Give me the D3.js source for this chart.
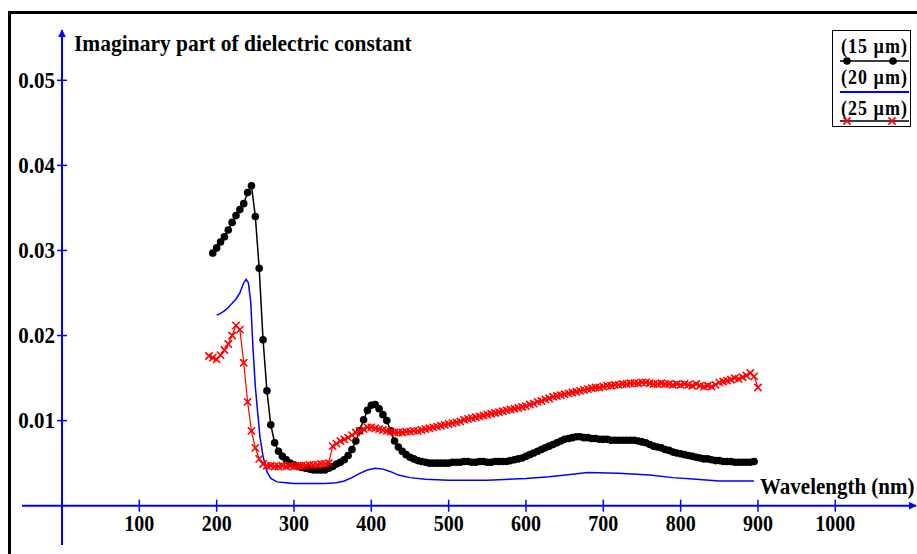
<!DOCTYPE html>
<html>
<head>
<meta charset="utf-8">
<script src="https://cdn.jsdelivr.net/npm/d3@7"></script>
<style>
  body { margin: 0; background: #fff; }
  text { font-family: "Liberation Serif", "Times New Roman", serif; font-weight: bold; fill: #000; }
</style>
</head>
<body>
<div id="plot"></div>
<script>
// wavelength (nm) / imaginary part of dielectric constant
var wl15 = [195,200,205,210,215,220,225,230,235,240,245,250,255,260,265,270,275,280,285,290,295,300,305,310,315,320,325,330,335,340,345,350,355,360,365,370,375,380,385,390,395,400,405,410,415,420,425,430,435,440,445,450,455,460,465,470,475,480,485,490,495,500,505,510,515,520,525,530,535,540,545,550,555,560,565,570,575,580,585,590,595,600,605,610,615,620,625,630,635,640,645,650,655,660,665,670,675,680,685,690,695,700,705,710,715,720,725,730,735,740,745,750,755,760,765,770,775,780,785,790,795,800,805,810,815,820,825,830,835,840,845,850,855,860,865,870,875,880,885,890,895];
var eps15 = [0.0297,0.0303,0.0310,0.0316,0.0324,0.0333,0.0341,0.0348,0.0355,0.0368,0.0376,0.0340,0.0279,0.0195,0.0135,0.0095,0.0074,0.0064,0.0058,0.0054,0.0050,0.0048,0.0046,0.0045,0.0044,0.0043,0.0042,0.0042,0.0042,0.0042,0.0044,0.0046,0.0049,0.0051,0.0054,0.0059,0.0066,0.0076,0.0088,0.0101,0.0112,0.0118,0.0119,0.0114,0.0107,0.0100,0.0088,0.0076,0.0069,0.0064,0.0060,0.0057,0.0055,0.0053,0.0052,0.0051,0.0050,0.0050,0.0050,0.0050,0.0050,0.0050,0.0051,0.0051,0.0051,0.0052,0.0052,0.0051,0.0051,0.0052,0.0052,0.0051,0.0051,0.0052,0.0052,0.0052,0.0052,0.0053,0.0054,0.0055,0.0056,0.0058,0.0060,0.0062,0.0064,0.0066,0.0068,0.0070,0.0072,0.0074,0.0076,0.0078,0.0079,0.0080,0.0081,0.0081,0.0080,0.0080,0.0079,0.0079,0.0078,0.0078,0.0078,0.0077,0.0077,0.0077,0.0077,0.0077,0.0077,0.0077,0.0076,0.0075,0.0074,0.0072,0.0070,0.0069,0.0068,0.0066,0.0065,0.0063,0.0062,0.0061,0.0060,0.0059,0.0058,0.0057,0.0056,0.0055,0.0055,0.0054,0.0053,0.0053,0.0052,0.0052,0.0052,0.0051,0.0051,0.0051,0.0051,0.0051,0.0052];

var wl20 = [200,205,210,215,220,225,230,235,238,241,244,247,250,253,256,260,265,270,278,290,300,320,340,355,365,375,385,395,405,415,425,435,450,470,500,550,600,630,660,680,720,760,790,820,850,895];
var eps20 = [0.0224,0.0226,0.0229,0.0233,0.0238,0.0243,0.0250,0.0262,0.0266,0.0262,0.0240,0.0185,0.0140,0.0110,0.0081,0.0058,0.0040,0.0032,0.0028,0.0027,0.0026,0.0026,0.0026,0.0027,0.0029,0.0033,0.0038,0.0042,0.0044,0.0043,0.0040,0.0036,0.0033,0.0031,0.0030,0.0030,0.0032,0.0034,0.0037,0.0039,0.0038,0.0036,0.0033,0.0031,0.0029,0.0029];

var wl25 = [190,195,200,205,210,215,220,225,230,235,240,245,250,255,260,265,270,275,280,285,290,295,300,305,310,315,320,325,330,335,340,345,350,355,360,365,370,375,380,385,390,395,400,405,410,415,420,425,430,435,440,445,450,455,460,465,470,475,480,485,490,495,500,505,510,515,520,525,530,535,540,545,550,555,560,565,570,575,580,585,590,595,600,605,610,615,620,625,630,635,640,645,650,655,660,665,670,675,680,685,690,695,700,705,710,715,720,725,730,735,740,745,750,755,760,765,770,775,780,785,790,795,800,805,810,815,820,825,830,835,840,845,850,855,860,865,870,875,880,885,890,895,900];
var eps25 = [0.0176,0.0174,0.0172,0.0177,0.0183,0.0190,0.0200,0.0212,0.0207,0.0168,0.0122,0.0088,0.0068,0.0055,0.0049,0.0047,0.0047,0.0046,0.0046,0.0047,0.0046,0.0047,0.0046,0.0047,0.0047,0.0047,0.0048,0.0048,0.0048,0.0049,0.0049,0.0050,0.0070,0.0073,0.0076,0.0078,0.0080,0.0083,0.0086,0.0088,0.0090,0.0092,0.0092,0.0091,0.0090,0.0089,0.0088,0.0087,0.0086,0.0086,0.0086,0.0087,0.0087,0.0088,0.0088,0.0089,0.0090,0.0091,0.0092,0.0093,0.0094,0.0095,0.0096,0.0097,0.0098,0.0099,0.0101,0.0102,0.0103,0.0104,0.0105,0.0106,0.0107,0.0108,0.0109,0.0110,0.0111,0.0112,0.0113,0.0114,0.0115,0.0116,0.0117,0.0119,0.0120,0.0122,0.0123,0.0125,0.0126,0.0128,0.0129,0.0130,0.0131,0.0132,0.0133,0.0134,0.0135,0.0136,0.0137,0.0138,0.0139,0.0139,0.0140,0.0141,0.0141,0.0142,0.0142,0.0143,0.0143,0.0144,0.0144,0.0144,0.0145,0.0145,0.0144,0.0143,0.0143,0.0144,0.0143,0.0143,0.0142,0.0143,0.0142,0.0143,0.0142,0.0141,0.0143,0.0141,0.0140,0.0141,0.0140,0.0142,0.0145,0.0146,0.0147,0.0148,0.0150,0.0149,0.0151,0.0153,0.0156,0.0152,0.0139];

var xTicks = [100,200,300,400,500,600,700,800,900,1000];
var yTicks = [0.01,0.02,0.03,0.04,0.05];
var legendLabels = ["(15 \u00b5m)", "(20 \u00b5m)", "(25 \u00b5m)"];

var svg = d3.select("div#plot")
            .append("svg")
            .attr("width", 917)
            .attr("height", 554);

var xScale = d3.scaleLinear().domain([0, 1000]).range([62, 835.3]);
var yScale = d3.scaleLinear().domain([0, 0.05]).range([505.7, 80.3]);
var blue = "#0000ff";
var red = "#ff0000";
var stretch = 1.12; // the source font is a bit taller than Times

// outer frame
svg.append("rect")
  .attr("x", 9.5).attr("y", 12.5)
  .attr("width", 940).attr("height", 600)
  .attr("fill", "none")
  .attr("stroke", "#000")
  .attr("stroke-width", 3);

// arrow heads
svg.append("defs").append("marker")
  .attr("id", "arrow")
  .attr("viewBox", "0 0 10 10")
  .attr("refX", 9).attr("refY", 5)
  .attr("markerWidth", 4).attr("markerHeight", 4)
  .attr("orient", "auto")
  .append("path")
  .attr("d", "M0,0 L10,5 L0,10 z")
  .attr("fill", blue);

// axes lines
svg.append("line")
  .attr("x1", 22).attr("x2", 916)
  .attr("y1", yScale(0)).attr("y2", yScale(0))
  .attr("stroke", blue).attr("stroke-width", 2)
  .attr("marker-end", "url(#arrow)");
svg.append("line")
  .attr("x1", xScale(0)).attr("x2", xScale(0))
  .attr("y1", 545).attr("y2", 30)
  .attr("stroke", blue).attr("stroke-width", 2)
  .attr("marker-end", "url(#arrow)");

// x ticks
svg.selectAll(".xtick").data(xTicks).enter().append("line")
  .attr("x1", d => xScale(d)).attr("x2", d => xScale(d))
  .attr("y1", yScale(0) - 6).attr("y2", yScale(0) + 6)
  .attr("stroke", blue).attr("stroke-width", 1.5);
svg.selectAll(".xlab").data(xTicks).enter().append("text")
  .attr("transform", d => `translate(${xScale(d)},531) scale(1,${stretch})`)
  .attr("text-anchor", "middle")
  .style("font-size", "20px")
  .text(d => d);

// y ticks
svg.selectAll(".ytick").data(yTicks).enter().append("line")
  .attr("x1", xScale(0) - 5).attr("x2", xScale(0) + 5)
  .attr("y1", d => yScale(d)).attr("y2", d => yScale(d))
  .attr("stroke", blue).attr("stroke-width", 1.5);
svg.selectAll(".ylab").data(yTicks).enter().append("text")
  .attr("transform", d => `translate(55,${yScale(d) + 7.5}) scale(1,${stretch})`)
  .attr("text-anchor", "end")
  .style("font-size", "21px")
  .text(d => d.toFixed(2));

// axis titles
svg.append("text")
  .attr("transform", `translate(74,51) scale(1,${stretch})`)
  .style("font-size", "21.5px")
  .text("Imaginary part of dielectric constant");
svg.append("text")
  .attr("transform", `translate(760,494) scale(1,${stretch})`)
  .style("font-size", "21px")
  .text("Wavelength (nm)");

var line = d3.line()
  .x(d => xScale(d[0]))
  .y(d => yScale(d[1]));

var d15 = d3.zip(wl15, eps15);
var d20 = d3.zip(wl20, eps20);
var d25 = d3.zip(wl25, eps25);

// 20 um : blue line
svg.append("path").datum(d20)
  .attr("fill", "none").attr("stroke", blue).attr("stroke-width", 1.5)
  .attr("d", line);

// 15 um : black line with dots
svg.append("path").datum(d15)
  .attr("fill", "none").attr("stroke", "#000").attr("stroke-width", 1.5)
  .attr("d", line);
svg.selectAll(".dot").data(d15).enter().append("circle")
  .attr("cx", d => xScale(d[0]))
  .attr("cy", d => yScale(d[1]))
  .attr("r", 3.8)
  .attr("fill", "#000");

// 25 um : red line with crosses
svg.append("path").datum(d25)
  .attr("fill", "none").attr("stroke", red).attr("stroke-width", 1.2)
  .attr("d", line);
var cross = d3.symbol().type(d3.symbolX).size(36);
svg.selectAll(".cross").data(d25).enter().append("path")
  .attr("transform", d => `translate(${xScale(d[0])},${yScale(d[1])})`)
  .attr("d", cross)
  .attr("fill", "none")
  .attr("stroke", red)
  .attr("stroke-width", 1.6);

// legend
var lg = svg.append("g");
lg.append("rect")
  .attr("x", 832.5).attr("y", 30.5)
  .attr("width", 78).attr("height", 96)
  .attr("fill", "#fff").attr("stroke", "#000").attr("stroke-width", 1);
lg.selectAll(".ltext").data(legendLabels).enter().append("text")
  .attr("transform", (d, i) => `translate(841,${53 + i * 31}) scale(1,${stretch})`)
  .attr("textLength", 66)
  .attr("lengthAdjust", "spacing")
  .style("font-size", "18px")
  .text(d => d);
// 15
lg.append("line").attr("x1", 840).attr("x2", 909).attr("y1", 61).attr("y2", 61)
  .attr("stroke", "#000").attr("stroke-width", 1.5);
lg.selectAll(".ldot").data([847, 893]).enter().append("circle")
  .attr("cx", d => d).attr("cy", 61).attr("r", 3.8).attr("fill", "#000");
// 20
lg.append("line").attr("x1", 840).attr("x2", 909).attr("y1", 92).attr("y2", 92)
  .attr("stroke", blue).attr("stroke-width", 2);
// 25
lg.append("line").attr("x1", 840).attr("x2", 909).attr("y1", 121).attr("y2", 121)
  .attr("stroke", "#000").attr("stroke-width", 1.5);
lg.selectAll(".lx").data([847, 892]).enter().append("path")
  .attr("transform", d => `translate(${d},121)`)
  .attr("d", cross)
  .attr("fill", "none").attr("stroke", red).attr("stroke-width", 1.6);
</script>
</body>
</html>
